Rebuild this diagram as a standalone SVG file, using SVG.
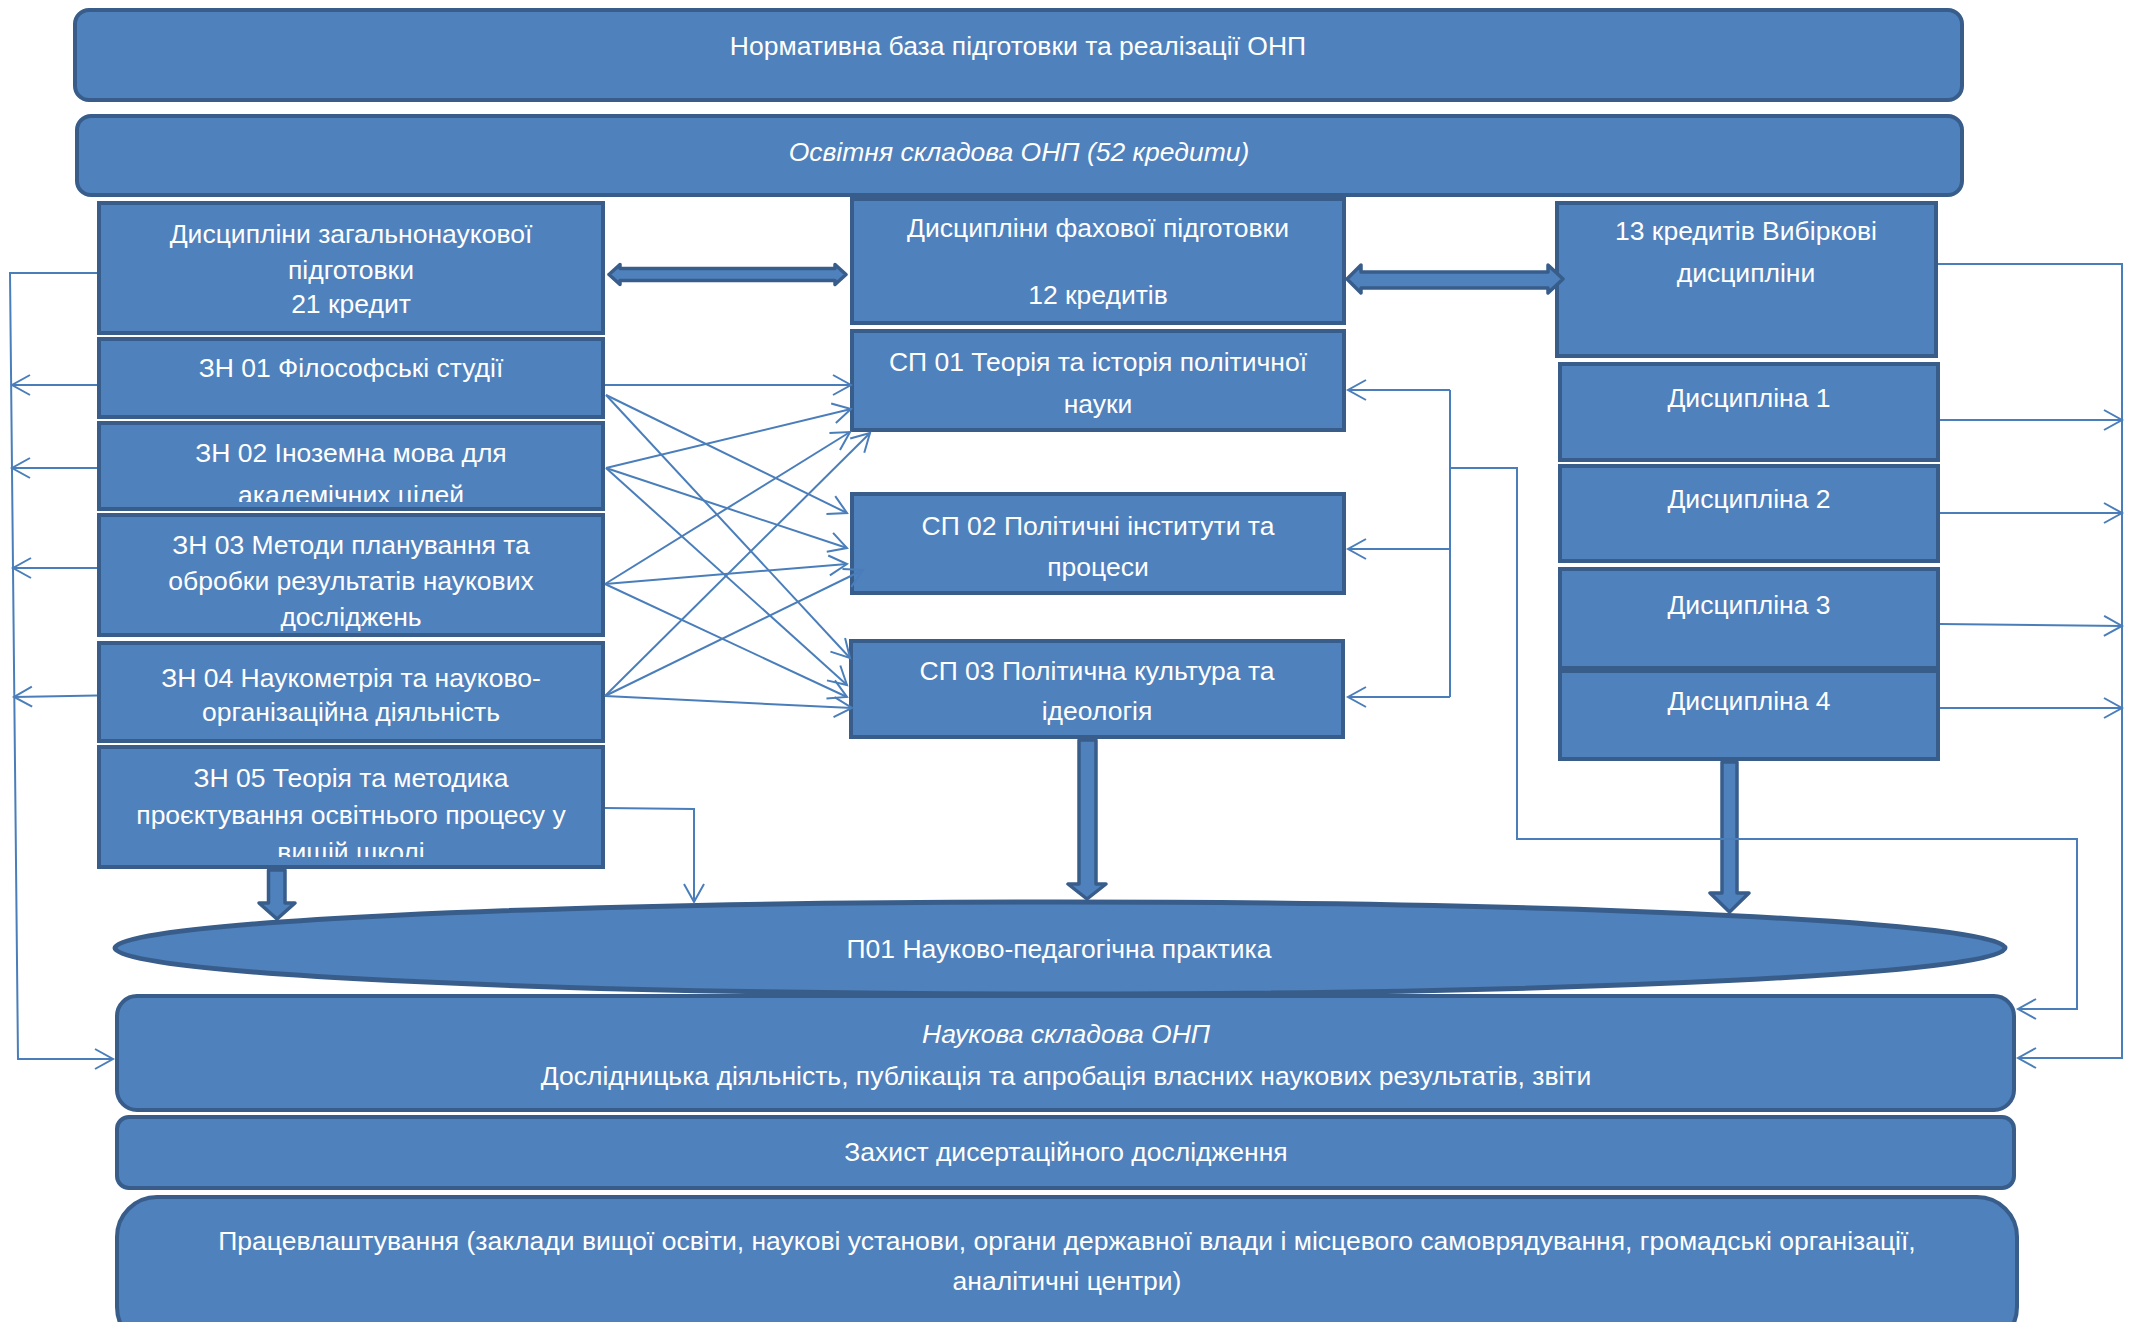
<svg xmlns="http://www.w3.org/2000/svg" width="2134" height="1322" viewBox="0 0 2134 1322">
<style>
.box{fill:#4F81BD;stroke:#385D8A;stroke-width:4}
.t{font-family:"Liberation Sans",Arial,sans-serif;font-size:26.5px;fill:#FFFFFF;text-anchor:middle}
.i{font-style:italic}
.ln{fill:none;stroke:#4A7EBB;stroke-width:2}
.blk{fill:#4F81BD;stroke:#385D8A;stroke-width:3.5;stroke-linejoin:round}
</style>
<defs>
<marker id="ah" markerUnits="userSpaceOnUse" markerWidth="24" markerHeight="24" viewBox="-20 -12 24 24" refX="0" refY="0" orient="auto">
<path d="M-18,-10 L0,0 L-18,10" fill="none" stroke="#4A7EBB" stroke-width="2"/>
</marker>
<clipPath id="c2"><rect x="99" y="420" width="504" height="82"/></clipPath>
<clipPath id="c5"><rect x="99" y="745" width="504" height="112"/></clipPath>
</defs>
<rect width="2134" height="1322" fill="#FFFFFF"/>

<g id="n-norm"><rect class="box" x="75" y="10" width="1887" height="90" rx="14"/>
<text class="t" x="1018" y="55">Нормативна база підготовки та реалізації ОНП</text></g>
<g id="n-osv"><rect class="box" x="77" y="116" width="1885" height="79" rx="14"/>
<text class="t i" x="1019" y="161">Освітня складова ОНП (52 кредити)</text></g>

<g id="n-zag"><rect class="box" x="99" y="203" width="504" height="130"/>
<text class="t" x="351" y="243">Дисципліни загальнонаукової</text>
<text class="t" x="351" y="279">підготовки</text>
<text class="t" x="351" y="313">21 кредит</text></g>
<g id="n-zn01"><rect class="box" x="99" y="339" width="504" height="78"/>
<text class="t" x="351" y="377">ЗН 01 Філософські студії</text></g>
<g id="n-zn02"><rect class="box" x="99" y="423" width="504" height="86"/>
<g clip-path="url(#c2)"><text class="t" x="351" y="462">ЗН 02 Іноземна мова для</text>
<text class="t" x="351" y="504">академічних цілей</text></g></g>
<g id="n-zn03"><rect class="box" x="99" y="515" width="504" height="120"/>
<text class="t" x="351" y="554">ЗН 03 Методи планування та</text>
<text class="t" x="351" y="590">обробки результатів наукових</text>
<text class="t" x="351" y="626">досліджень</text></g>
<g id="n-zn04"><rect class="box" x="99" y="643" width="504" height="98"/>
<text class="t" x="351" y="687">ЗН 04 Наукометрія та науково-</text>
<text class="t" x="351" y="721">організаційна діяльність</text></g>
<g id="n-zn05"><rect class="box" x="99" y="747" width="504" height="120"/>
<g clip-path="url(#c5)"><text class="t" x="351" y="787">ЗН 05 Теорія та методика</text>
<text class="t" x="351" y="824">проєктування освітнього процесу у</text>
<text class="t" x="351" y="861">вищій школі</text></g></g>

<g id="n-fah"><rect class="box" x="852" y="199" width="492" height="124"/>
<text class="t" x="1098" y="237">Дисципліни фахової підготовки</text>
<text class="t" x="1098" y="304">12 кредитів</text></g>
<g id="n-sp01"><rect class="box" x="852" y="331" width="492" height="99"/>
<text class="t" x="1098" y="371">СП 01 Теорія та історія політичної</text>
<text class="t" x="1098" y="413">науки</text></g>
<g id="n-sp02"><rect class="box" x="852" y="494" width="492" height="99"/>
<text class="t" x="1098" y="535">СП 02 Політичні інститути та</text>
<text class="t" x="1098" y="576">процеси</text></g>
<g id="n-sp03"><rect class="box" x="851" y="641" width="492" height="96"/>
<text class="t" x="1097" y="680">СП 03 Політична культура та</text>
<text class="t" x="1097" y="720">ідеологія</text></g>

<g id="n-vyb"><rect class="box" x="1557" y="203" width="379" height="153"/>
<text class="t" x="1746" y="240">13 кредитів Вибіркові</text>
<text class="t" x="1746" y="282">дисципліни</text></g>
<g id="n-d1"><rect class="box" x="1560" y="364" width="378" height="96"/>
<text class="t" x="1749" y="407">Дисципліна 1</text></g>
<g id="n-d2"><rect class="box" x="1560" y="466" width="378" height="95"/>
<text class="t" x="1749" y="508">Дисципліна 2</text></g>
<g id="n-d3"><rect class="box" x="1560" y="569" width="378" height="99"/>
<text class="t" x="1749" y="614">Дисципліна 3</text></g>
<g id="n-d4"><rect class="box" x="1560" y="671" width="378" height="88"/>
<text class="t" x="1749" y="710">Дисципліна 4</text></g>

<g id="n-prak"><ellipse cx="1060" cy="948" rx="945" ry="46" fill="#4F81BD" stroke="#385D8A" stroke-width="5"/>
<text class="t" x="1059" y="958">П01 Науково-педагогічна практика</text></g>
<g id="n-nauk"><rect class="box" x="117" y="996" width="1897" height="114" rx="20"/>
<text class="t i" x="1066" y="1043">Наукова складова ОНП</text>
<text class="t" x="1066" y="1085">Дослідницька діяльність, публікація та апробація власних наукових результатів, звіти</text></g>
<g id="n-zah"><rect class="box" x="117" y="1117" width="1897" height="71" rx="12"/>
<text class="t" x="1066" y="1161">Захист дисертаційного дослідження</text></g>
<g id="n-prac"><rect class="box" x="117" y="1197" width="1900" height="150" rx="40"/>
<text class="t" x="1067" y="1250">Працевлаштування (заклади вищої освіти, наукові установи, органи державної влади і місцевого самоврядування, громадські організації,</text>
<text class="t" x="1067" y="1290">аналітичні центри)</text></g>

<g id="connectors">
<path class="blk" d="M609,274.5 L620,264.5 L620,268.5 L835,268.5 L835,264.5 L846,274.5 L835,284.5 L835,280.5 L620,280.5 L620,284.5 Z"/>
<path class="blk" d="M1347,279 L1361,265 L1361,272 L1548,272 L1548,265 L1563,279 L1548,293 L1548,288 L1361,288 L1361,293 Z"/>
<path class="blk" d="M268.5,870 L285,870 L285,903 L295,903 L277,919 L259,903 L268.5,903 Z"/>
<path class="blk" d="M1079,740 L1096,740 L1096,884 L1106,884 L1087,899 L1068,884 L1079,884 Z"/>
<path class="blk" d="M1722,762 L1737,762 L1737,893 L1749,893 L1729.5,912 L1710,893 L1722,893 Z"/>

<path class="ln" d="M97,273 L10,273 L18,1059 L113,1059" marker-end="url(#ah)"/>
<path class="ln" d="M97,385 L12,385" marker-end="url(#ah)"/>
<path class="ln" d="M97,468 L12,468" marker-end="url(#ah)"/>
<path class="ln" d="M97,568 L13,568" marker-end="url(#ah)"/>
<path class="ln" d="M97,695.6 L14,697" marker-end="url(#ah)"/>

<path class="ln" d="M605,385 L851,385" marker-end="url(#ah)"/>
<path class="ln" d="M606,395 L847,513" marker-end="url(#ah)"/>
<path class="ln" d="M606,395 L850,658" marker-end="url(#ah)"/>
<path class="ln" d="M606,468 L851,409" marker-end="url(#ah)"/>
<path class="ln" d="M606,468 L847,548" marker-end="url(#ah)"/>
<path class="ln" d="M606,468 L847,685" marker-end="url(#ah)"/>
<path class="ln" d="M605,584 L850,432" marker-end="url(#ah)"/>
<path class="ln" d="M605,584 L847,564" marker-end="url(#ah)"/>
<path class="ln" d="M605,584 L847,697" marker-end="url(#ah)"/>
<path class="ln" d="M605,696 L870,433" marker-end="url(#ah)"/>
<path class="ln" d="M605,696 L863,570" marker-end="url(#ah)"/>
<path class="ln" d="M605,696 L852,708" marker-end="url(#ah)"/>

<path class="ln" d="M605,808 L694,809 L694,902" marker-end="url(#ah)"/>

<path class="ln" d="M1450,390 L1450,697"/>
<path class="ln" d="M1450,390 L1348,390" marker-end="url(#ah)"/>
<path class="ln" d="M1450,549 L1348,549" marker-end="url(#ah)"/>
<path class="ln" d="M1450,697 L1348,697" marker-end="url(#ah)"/>
<path class="ln" d="M1450,468 L1517,468 L1517,839 L2077,839 L2077,1009 L2018,1009" marker-end="url(#ah)"/>

<path class="ln" d="M1938,264 L2122,264 L2122,1058 L2018,1058" marker-end="url(#ah)"/>
<path class="ln" d="M1940,420 L2122,420" marker-end="url(#ah)"/>
<path class="ln" d="M1940,513 L2122,513" marker-end="url(#ah)"/>
<path class="ln" d="M1940,624 L2122,626" marker-end="url(#ah)"/>
<path class="ln" d="M1940,708 L2122,708" marker-end="url(#ah)"/>
</g>
</svg>
